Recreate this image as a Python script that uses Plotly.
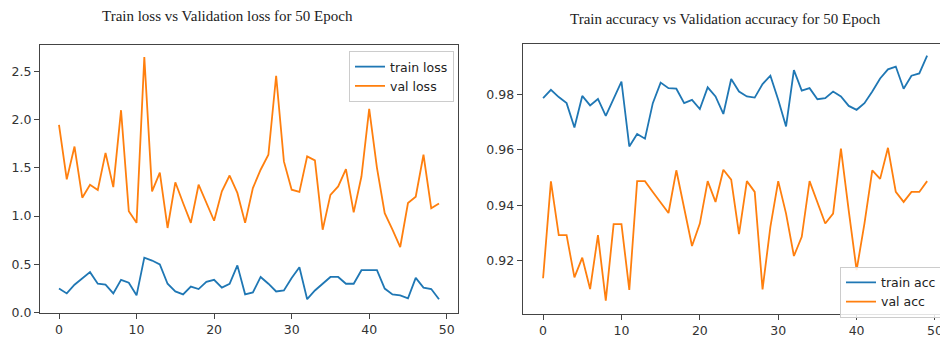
import plotly.graph_objects as go

epochs = list(range(50))

train_loss = [0.25, 0.20, 0.29, 0.36, 0.42, 0.30, 0.29, 0.20, 0.34, 0.31,
              0.18, 0.57, 0.54, 0.50, 0.30, 0.22, 0.19, 0.27, 0.245, 0.32,
              0.34, 0.26, 0.30, 0.49, 0.19, 0.21, 0.37, 0.30, 0.22, 0.23,
              0.36, 0.47, 0.14, 0.23, 0.30, 0.37, 0.37, 0.30, 0.30, 0.44,
              0.44, 0.44, 0.25, 0.19, 0.18, 0.15, 0.36, 0.26, 0.245, 0.14]

val_loss = [1.945, 1.38, 1.72, 1.19, 1.325, 1.27, 1.654, 1.30, 2.096, 1.05,
            0.93, 2.647, 1.256, 1.45, 0.877, 1.35, 1.135, 0.93, 1.325, 1.135,
            0.952, 1.256, 1.42, 1.24, 0.93, 1.29, 1.48, 1.635, 2.453, 1.566,
            1.273, 1.25, 1.618, 1.577, 0.859, 1.22, 1.307, 1.487, 1.038, 1.41,
            2.11, 1.50, 1.03, 0.86, 0.68, 1.135, 1.20, 1.635, 1.08, 1.13]

train_acc = [0.9786, 0.9816, 0.9790, 0.9768, 0.9680, 0.9794, 0.9760, 0.9783, 0.9722, 0.9786,
             0.9846, 0.9612, 0.9657, 0.9640, 0.9768, 0.9842, 0.9822, 0.9820, 0.9768, 0.9780,
             0.9747, 0.9825, 0.9792, 0.9729, 0.9855, 0.9810, 0.9792, 0.9788, 0.9837, 0.9867,
             0.9780, 0.9684, 0.9887, 0.9813, 0.9822, 0.9782, 0.9786, 0.9810, 0.9792, 0.9758,
             0.9744, 0.9768, 0.9810, 0.9857, 0.9890, 0.9900, 0.9820, 0.9867, 0.9875, 0.9939]

val_acc = [0.9137, 0.9486, 0.9292, 0.9292, 0.9140, 0.9211, 0.9098, 0.9292, 0.9056, 0.9332,
           0.9332, 0.9095, 0.9487, 0.9487, 0.9448, 0.9410, 0.9372, 0.9526, 0.9394, 0.9253,
           0.9334, 0.9487, 0.9412, 0.9528, 0.9492, 0.9296, 0.9487, 0.9448, 0.9097, 0.9322,
           0.9487, 0.9370, 0.9217, 0.9286, 0.9487, 0.9412, 0.9334, 0.9370, 0.9604, 0.9380,
           0.9166, 0.9334, 0.9526, 0.9495, 0.9607, 0.9448, 0.9412, 0.9448, 0.9448, 0.9487]

loss_yticks = [0.0, 0.5, 1.0, 1.5, 2.0, 2.5]
acc_yticks = [0.92, 0.94, 0.96, 0.98]
xticks = [0, 10, 20, 30, 40, 50]

title_left = "Train loss vs Validation loss for 50 Epoch"
title_right = "Train accuracy vs Validation accuracy for 50 Epoch"

BLUE = "#1f77b4"
ORANGE = "#ff7f0e"
W, H = 940, 337

fig = go.Figure()
fig.add_trace(go.Scatter(x=epochs, y=train_loss, mode="lines", name="train loss",
                         line=dict(color=BLUE, width=1.8), xaxis="x", yaxis="y", legend="legend"))
fig.add_trace(go.Scatter(x=epochs, y=val_loss, mode="lines", name="val loss",
                         line=dict(color=ORANGE, width=1.8), xaxis="x", yaxis="y", legend="legend"))
fig.add_trace(go.Scatter(x=epochs, y=train_acc, mode="lines", name="train acc",
                         line=dict(color=BLUE, width=1.8), xaxis="x2", yaxis="y2", legend="legend2"))
fig.add_trace(go.Scatter(x=epochs, y=val_acc, mode="lines", name="val acc",
                         line=dict(color=ORANGE, width=1.8), xaxis="x2", yaxis="y2", legend="legend2"))

tickfont = dict(family="DejaVu Sans", size=12.5, color="#333")
axcommon = dict(showgrid=False, zeroline=False, showline=True, linecolor="#444", linewidth=1,
                ticks="outside", ticklen=5, tickcolor="#444", tickwidth=1, tickfont=tickfont,
                ticklabeloverflow="allow")

def px_x(p):
    return p / W

def px_y(p):
    return 1 - p / H

fig.update_layout(
    width=W, height=H,
    margin=dict(l=0, r=0, t=0, b=0, autoexpand=False),
    paper_bgcolor="white", plot_bgcolor="white",
    xaxis=dict(domain=[px_x(40), px_x(458)], range=[-2.45, 51.45], tickvals=xticks,
               mirror=True, anchor="y", **axcommon),
    yaxis=dict(domain=[px_y(313), px_y(45)], range=[-0.003, 2.771], tickvals=loss_yticks,
               tickformat=".1f", mirror=True, anchor="x", **axcommon),
    xaxis2=dict(domain=[px_x(522.7), 1.0], range=[-2.6, 50.64], tickvals=xticks,
                mirror=True, anchor="y2", **axcommon),
    yaxis2=dict(domain=[px_y(314), px_y(43.5)], range=[0.9008, 0.9983], tickvals=acc_yticks,
                tickformat=".2f", mirror=False, anchor="x2", **axcommon),
    legend=dict(x=px_x(349), y=px_y(51), xanchor="left", yanchor="top",
                bgcolor="rgba(255,255,255,0.85)", bordercolor="#cccccc", borderwidth=1,
                font=dict(family="DejaVu Sans", size=12.5, color="#222"), itemwidth=30,
                tracegroupgap=0),
    legend2=dict(x=px_x(840), y=px_y(266.7), xanchor="left", yanchor="top",
                 bgcolor="rgba(255,255,255,0.85)", bordercolor="#cccccc", borderwidth=1,
                 font=dict(family="DejaVu Sans", size=12.5, color="#222"), itemwidth=30,
                 tracegroupgap=0),
    showlegend=True,
    annotations=[
        dict(text=title_left, x=px_x(227), y=px_y(16.5), xref="paper", yref="paper",
             xanchor="center", yanchor="middle", showarrow=False,
             font=dict(family="Liberation Serif", size=15, color="#222")),
        dict(text=title_right, x=px_x(725.5), y=px_y(19.5), xref="paper", yref="paper",
             xanchor="center", yanchor="middle", showarrow=False,
             font=dict(family="Liberation Serif", size=15, color="#222")),
    ],
)

fig.write_html("out.html")
